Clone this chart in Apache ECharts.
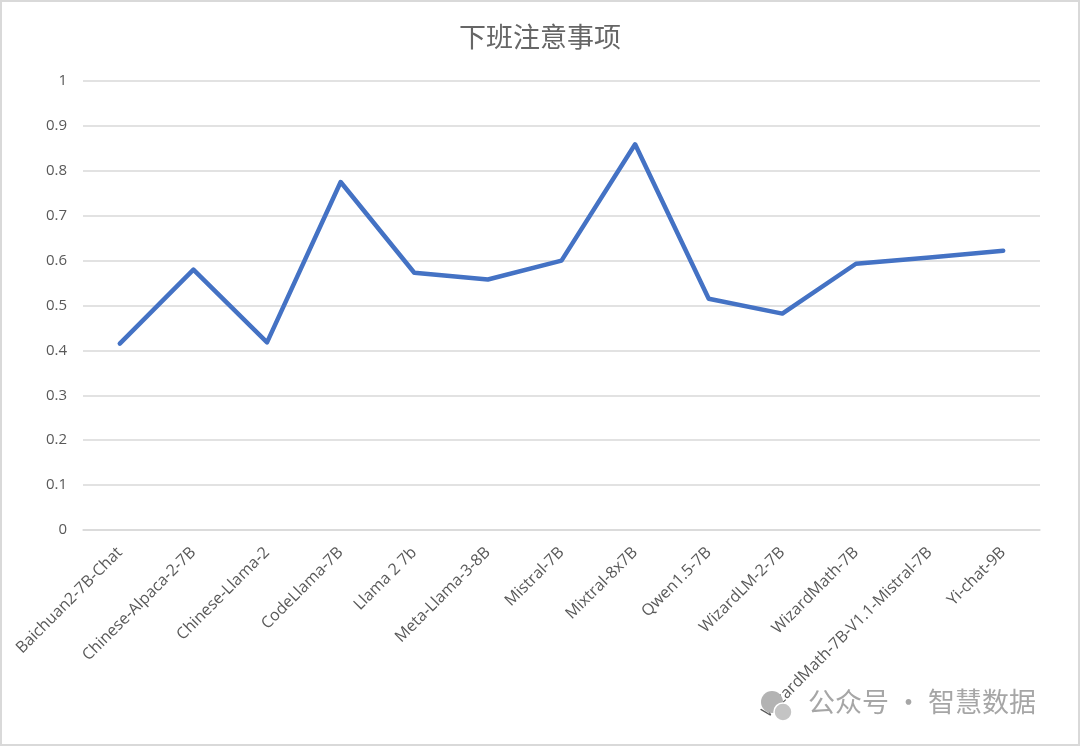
<!DOCTYPE html>
<html><head><meta charset="utf-8">
<script src="https://cdn.jsdelivr.net/npm/echarts@6/dist/echarts.min.js"></script>
<style>
html,body{margin:0;padding:0;background:#fff;}
#c{width:1080px;height:746px;box-sizing:border-box;border:2px solid #d9d9d9;}
</style></head>
<body><div id="c"></div>
<script>
const categories = ["Baichuan2-7B-Chat","Chinese-Alpaca-2-7B","Chinese-Llama-2","CodeLlama-7B","Llama 2 7b","Meta-Llama-3-8B","Mistral-7B","Mixtral-8x7B","Qwen1.5-7B","WizardLM-2-7B","WizardMath-7B","WizardMath-7B-V1.1-Mistral-7B","Yi-chat-9B"];
const values = [0.415,0.580,0.418,0.775,0.573,0.558,0.600,0.859,0.515,0.482,0.593,0.607,0.622];
const titleText = "下班注意事项";
const watermark = "公众号 · 智慧数据";

const chart = echarts.init(document.getElementById('c'));
chart.setOption({
  backgroundColor:'#fff',
  animation:false,
  title:{text:titleText,left:'center',top:16,textStyle:{fontFamily:'Noto Sans CJK SC',fontSize:27,fontWeight:'normal',color:'#666666'}},
  grid:{left:81,right:38,top:79,bottom:214},
  xAxis:{type:'category',data:categories,boundaryGap:true,
    axisLine:{show:true,lineStyle:{color:'#d9d9d9',width:1.5}},axisTick:{show:false},
    axisLabel:{rotate:45,interval:0,margin:20,fontFamily:'Open Sans',fontSize:16,color:'#595959'}},
  yAxis:{type:'value',min:0,max:1,interval:0.1,
    axisLine:{show:false},axisTick:{show:false},
    splitLine:{lineStyle:{color:'#d9d9d9',width:1.5}},
    axisLabel:{margin:16,fontFamily:'Open Sans',fontSize:15,color:'#595959',formatter:v=>String(Math.round(v*10)/10)}},
  series:[{type:'line',data:values,showSymbol:false,symbol:'none',
    lineStyle:{color:'#4472C4',width:4.5,join:'round',cap:'round'}}],
  graphic:[
    {type:'circle',shape:{cx:770,cy:700,r:11},style:{fill:'#b3b3b3'},z:10},
    {type:'circle',shape:{cx:781,cy:710,r:9},style:{fill:'#c4c4c4',stroke:'#fff',lineWidth:1.5},z:11},
    {type:'text',left:806,top:686,style:{text:watermark,fontFamily:'Noto Sans CJK SC',fontSize:27,fill:'#a6a6a6'},z:10}
  ]
});
</script></body></html>
